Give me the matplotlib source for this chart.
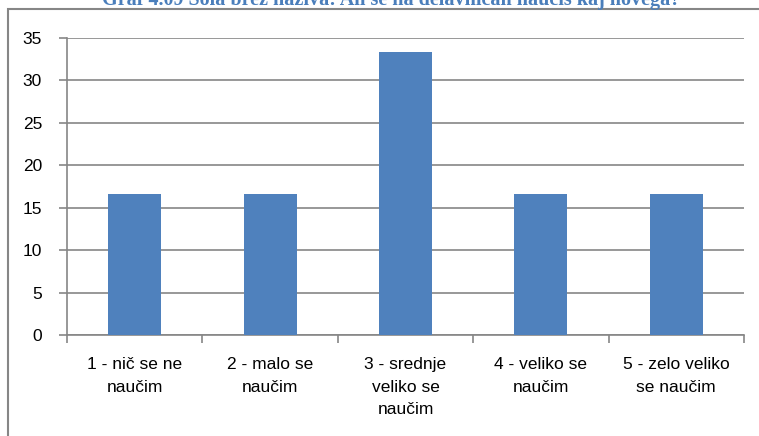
import numpy as np
import matplotlib
matplotlib.use("Agg")
import matplotlib.pyplot as plt
from matplotlib.patches import Rectangle

# Share of answers per rating, in percent
categories = ["1 - nič se ne\nnaučim", "2 - malo se\nnaučim", "3 - srednje\nveliko se\nnaučim",
              "4 - veliko se\nnaučim", "5 - zelo veliko\nse naučim"]
values = [16.67, 16.67, 33.33, 16.67, 16.67]
yticks = [0, 5, 10, 15, 20, 25, 30, 35]
title = "Graf 4.09 Šola brez naziva: Ali se na delavnicah naučiš kaj novega?"

GRID = "#868686"
BAR = "#4F81BD"
W, H = 759, 436

fig = plt.figure(figsize=(W / 100, H / 100), dpi=100)
plt.rcParams["font.family"] = ["Liberation Sans", "DejaVu Sans"]

# outer chart frame (left and top edges only inside the image)
fig.patches.append(Rectangle((8 / W, -0.1), 1.2, (H - 9) / H + 0.1, transform=fig.transFigure,
                             fill=False, edgecolor=GRID, linewidth=1.5))

# title, partly cut at the top edge
fig.text(391 / W, 1 - 5 / H, title, ha="center", va="baseline", fontsize=14.5,
         fontweight="bold", family="Liberation Serif", color="#4A7EBB")

ax = fig.add_axes([67 / W, 1 - 335 / H, (744 - 67) / W, (335 - 38) / H])
x = np.arange(len(values))
ax.bar(x, values, width=0.39, color=BAR, zorder=3)
ax.set_xlim(-0.5, len(values) - 0.5)
ax.set_ylim(0, 35)
ax.set_yticks(yticks)
ax.yaxis.grid(True, color=GRID, linewidth=1.2)
ax.set_axisbelow(True)

for s in ("top", "right"):
    ax.spines[s].set_visible(False)
for s in ("left", "bottom"):
    ax.spines[s].set_color(GRID)
    ax.spines[s].set_linewidth(1.2)

ax.set_xticks(np.arange(-0.5, len(values)), minor=False)
ax.set_xticklabels([])
ax.set_xticks(x, minor=True)
ax.set_xticklabels(categories, minor=True, fontsize=12.5, linespacing=1.62, va="top")
ax.tick_params(axis="x", which="major", length=6, color=GRID, width=1.2)
ax.tick_params(axis="x", which="minor", length=0, pad=16)
ax.tick_params(axis="y", length=6, color=GRID, width=1.2, labelsize=12.5, pad=12)

fig.savefig("out.png", dpi=100)
